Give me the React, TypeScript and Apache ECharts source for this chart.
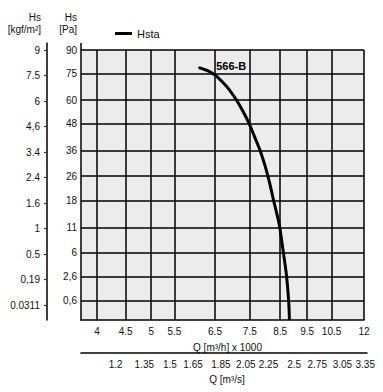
import React, { useEffect, useRef } from "react";
import * as echarts from "echarts";

// ---------- data ----------
const Q_TICKS = [4, 4.5, 5, 5.5, 6.5, 7.5, 8.5, 9.5, 10.5, 12];
const Q_TICK_LABELS = ["4", "4.5", "5", "5.5", "6.5", "7.5", "8.5", "9.5", "10.5", "12"];
const QS_TICKS = [1.2, 1.35, 1.5, 1.65, 1.85, 2.05, 2.25, 2.5, 2.75, 3.05, 3.35];
const QS_TICK_LABELS = ["1.2", "1.35", "1.5", "1.65", "1.85", "2.05", "2.25", "2.5", "2.75", "3.05", "3.35"];
const PA_TICKS = [90, 75, 60, 48, 36, 26, 18, 11, 6, 2.6, 0.6];
const PA_TICK_LABELS = ["90", "75", "60", "48", "36", "26", "18", "11", "6", "2,6", "0,6"];
const KGF_TICK_LABELS = ["9", "7.5", "6", "4,6", "3.4", "2.4", "1.6", "1", "0.5", "0,19", "0.0311"];

const SERIES_NAME = "Hsta";
const CURVE_NAME = "566-B";
const CURVE_Q = [6.09, 6.29, 6.5, 6.69, 6.89, 7.09, 7.28, 7.48, 7.66, 7.82, 7.99, 8.14, 8.27, 8.47, 8.6, 8.72, 8.8, 8.83];
const CURVE_PA = [78.7, 77, 74.3, 70.4, 65.8, 60.3, 54.5, 48, 41.5, 36.1, 29.7, 23.6, 18.2, 11.6, 6.4, 2.8, 0.63, 0.01];

// axis ranges
const Q_MIN = 3.745;
const Q_MAX = 12;
const QS_MAX = 3.374;
const M3H_K_PER_M3S = 3.6; // 1 m³/s = 3.6 x 1000 m³/h
const PA_MIN = 0.01;
const PA_MAX = 90;

// ---------- layout ----------
const FONT = "Liberation Sans, Arial, sans-serif";
const PLOT_LEFT = 81;
const PLOT_TOP = 50;
const PLOT_W = 283;
const PLOT_H = 270;

const lg = Math.log10;
const xMin = lg(Q_MIN);
const xMax = lg(Q_MAX);
const pxPerDecade = PLOT_W / (xMax - xMin);
const sMin = lg(Q_MIN / M3H_K_PER_M3S);
const sMax = lg(QS_MAX);
const SEC_W = pxPerDecade * (sMax - sMin);

const yMin = Math.sqrt(PA_MIN);
const yMax = Math.sqrt(PA_MAX);

// kgf axis: evenly spaced labels
const KGF_TOP = 43;
const KGF_BOTTOM = 320;
const KGF_FIRST = 50;
const KGF_LAST = 305;
const kgfN = KGF_TICK_LABELS.length - 1;
const kgfStep = (KGF_LAST - KGF_FIRST) / kgfN;
const kgfMax = kgfN + (KGF_FIRST - KGF_TOP) / kgfStep;
const kgfMin = -(KGF_BOTTOM - KGF_LAST) / kgfStep;

const nearestLabel = (vals: number[], labels: string[]) => (v: number) => {
  let best = 0;
  let bd = Infinity;
  vals.forEach((t, i) => {
    const d = Math.abs(t - v);
    if (d < bd) {
      bd = d;
      best = i;
    }
  });
  return labels[best];
};

const qTickVals = Q_TICKS.map(lg);
const qsTickVals = QS_TICKS.map(lg);
const paTickVals = PA_TICKS.map(Math.sqrt);
const kgfTickVals = KGF_TICK_LABELS.map((_, i) => kgfN - i);

const BLACK = "#000";
const GRID_LINE = { color: "#000", width: 1.5 };
const labelStyle = { color: "#111", fontSize: 10, fontFamily: FONT };
const nameStyle = {
  color: "#111",
  fontSize: 10,
  fontFamily: FONT,
  align: "right",
  verticalAlign: "bottom",
  lineHeight: 12,
};

export default function App() {
  const ref = useRef<HTMLDivElement>(null);

  useEffect(() => {
    if (!ref.current) return;
    const chart = echarts.init(ref.current, undefined, { renderer: "svg" });

    const curveData = CURVE_Q.map((q, i) => {
      const v = [lg(q), Math.sqrt(CURVE_PA[i])];
      if (i === 0) {
        return {
          value: v,
          symbol: "circle",
          symbolSize: 2,
          label: {
            show: true,
            position: "right",
            distance: 16,
            offset: [0, -2],
            formatter: CURVE_NAME,
            fontWeight: "bold",
            fontSize: 11,
            fontFamily: FONT,
            color: BLACK,
          },
        };
      }
      return v;
    });

    const option: any = {
      animation: false,
      backgroundColor: "#fff",
      textStyle: { fontFamily: FONT },
      legend: {
        data: [SERIES_NAME],
        left: 115,
        top: 28,
        padding: 0,
        icon: "rect",
        itemWidth: 17,
        itemHeight: 3,
        textStyle: { color: "#111", fontSize: 11, fontFamily: FONT },
      },
      grid: [
        {
          left: PLOT_LEFT,
          top: PLOT_TOP,
          width: PLOT_W,
          height: PLOT_H,
          show: true,
          backgroundColor: "#ececec",
          borderWidth: 0,
        },
        { left: 47, top: KGF_TOP, width: 1, height: KGF_BOTTOM - KGF_TOP },
        { left: PLOT_LEFT, top: 352, width: SEC_W, height: 1 },
      ],
      xAxis: [
        {
          type: "value",
          gridIndex: 0,
          min: xMin,
          max: xMax,
          axisLine: { show: true, lineStyle: GRID_LINE },
          axisTick: { show: false, customValues: qTickVals },
          axisLabel: {
            ...labelStyle,
            margin: 6,
            customValues: qTickVals,
            formatter: nearestLabel(qTickVals, Q_TICK_LABELS),
          },
          splitLine: { show: true, lineStyle: GRID_LINE },
          name: "Q [m³/h] x 1000",
          nameLocation: "middle",
          nameGap: 22,
          nameTextStyle: { ...labelStyle, padding: [0, 0, 0, 10] },
        },
        { type: "value", gridIndex: 1, show: false, min: 0, max: 1 },
        {
          type: "value",
          gridIndex: 2,
          position: "bottom",
          min: sMin,
          max: sMax,
          axisLine: { show: true, lineStyle: { color: BLACK, width: 1.5 } },
          axisTick: { show: false, customValues: qsTickVals },
          axisLabel: {
            ...labelStyle,
            margin: 6,
            customValues: qsTickVals,
            formatter: nearestLabel(qsTickVals, QS_TICK_LABELS),
          },
          splitLine: { show: false },
          name: "Q [m³/s]",
          nameLocation: "middle",
          nameGap: 21,
          nameTextStyle: { ...labelStyle, padding: [0, 0, 0, 6] },
        },
      ],
      yAxis: [
        {
          type: "value",
          gridIndex: 0,
          min: yMin,
          max: yMax,
          axisLine: { show: true, lineStyle: GRID_LINE },
          axisTick: { show: false, customValues: paTickVals },
          axisLabel: {
            ...labelStyle,
            margin: 4,
            customValues: paTickVals,
            formatter: nearestLabel(paTickVals, PA_TICK_LABELS),
          },
          splitLine: { show: true, lineStyle: GRID_LINE },
          name: "Hs\n[Pa]",
          nameLocation: "end",
          nameGap: 15,
          nameTextStyle: { ...nameStyle, padding: [0, 4, 0, 0] },
        },
        {
          type: "value",
          gridIndex: 1,
          min: kgfMin,
          max: kgfMax,
          axisLine: { show: true, lineStyle: { color: BLACK, width: 1.5 } },
          axisTick: {
            show: true,
            length: 3,
            customValues: kgfTickVals,
            lineStyle: { color: "#333", width: 1.2 },
          },
          axisLabel: {
            ...labelStyle,
            margin: 7,
            customValues: kgfTickVals,
            formatter: (v: number) => KGF_TICK_LABELS[kgfN - Math.round(v)],
          },
          splitLine: { show: false },
          name: "Hs\n[kgf/m²]",
          nameLocation: "end",
          nameGap: 8,
          nameTextStyle: { ...nameStyle, padding: [0, 6, 0, 0] },
        },
        { type: "value", gridIndex: 2, show: false, min: 0, max: 1 },
      ],
      graphic: [
        {
          type: "line",
          shape: { x1: PLOT_LEFT, y1: KGF_TOP, x2: PLOT_LEFT, y2: PLOT_TOP },
          style: { stroke: BLACK, lineWidth: 1.5 },
        },
      ],
      series: [
        {
          type: "line",
          name: SERIES_NAME,
          xAxisIndex: 0,
          yAxisIndex: 0,
          data: curveData,
          smooth: 0.25,
          symbol: "none",
          showSymbol: true,
          lineStyle: { color: BLACK, width: 3 },
          itemStyle: { color: BLACK },
          z: 5,
        },
      ],
    };

    chart.setOption(option);
    return () => chart.dispose();
  }, []);

  return (
    <div
      ref={ref}
      style={{ position: "fixed", left: 0, top: 0, width: 383, height: 392 }}
    />
  );
}
